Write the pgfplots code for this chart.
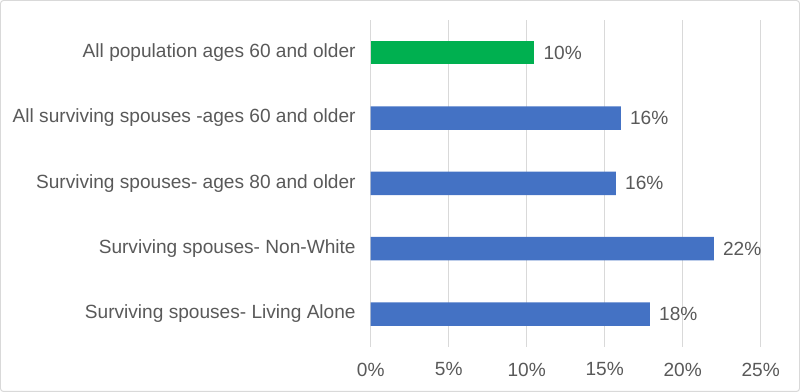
\documentclass[border=0pt]{standalone}
\usepackage{pgfplots}
\pgfplotsset{compat=1.18}
\usepackage{fontspec}
\setmainfont{Liberation Sans}
\definecolor{txt}{HTML}{595959}
\definecolor{gridc}{HTML}{D9D9D9}
\definecolor{bargreen}{HTML}{00B050}
\definecolor{barblue}{HTML}{4472C4}
\begin{document}
\begin{tikzpicture}
\begin{axis}[
  name=ax,
  scale only axis,
  width=390pt, height=326.7pt,
  xbar, bar width=23.5pt, bar shift=0pt,
  xmin=0, xmax=25,
  ymin=-0.5, ymax=4.5,
  xtick={0,5,10,15,20,25},
  xticklabels={0\%,5\%,10\%,15\%,20\%,25\%},
  ytick={0,1,2,3,4},
  yticklabels={Surviving spouses- Living Alone,Surviving spouses- Non-White,Surviving spouses- ages 80 and older,All surviving spouses -ages 60 and older,All population ages 60 and older},
  xmajorgrids, ymajorgrids=false,
  grid style={gridc, line width=0.9pt},
  axis line style={draw=none},
  major tick length=0pt,
  tick style={draw=none},
  ticklabel style={font=\fontsize{19.1}{22}\selectfont, text=txt},
  xticklabel style={yshift=-12.5pt},
  yticklabel style={xshift=-11.5pt},
  nodes near coords={\pgfmathprintnumber[fixed,precision=0,assume math mode=true]{\pgfplotspointmeta}\%},
  point meta=x,
  nodes near coords style={anchor=west, inner sep=0pt, xshift=9pt, font=\fontsize{19.1}{22}\selectfont, text=txt},
  clip=false,
]
\addplot[fill=bargreen, draw=none] coordinates {(10.49,4)};
\addplot[fill=barblue, draw=none] coordinates {(16.04,3) (15.72,2) (22.0,1) (17.9,0)};
\end{axis}
\draw[gridc, line width=1pt, rounded corners=3pt]
  ([xshift=-370.2pt,yshift=-44.8pt]ax.south west) rectangle ([xshift=38.8pt,yshift=19.5pt]ax.north east);
\end{tikzpicture}
\end{document}
